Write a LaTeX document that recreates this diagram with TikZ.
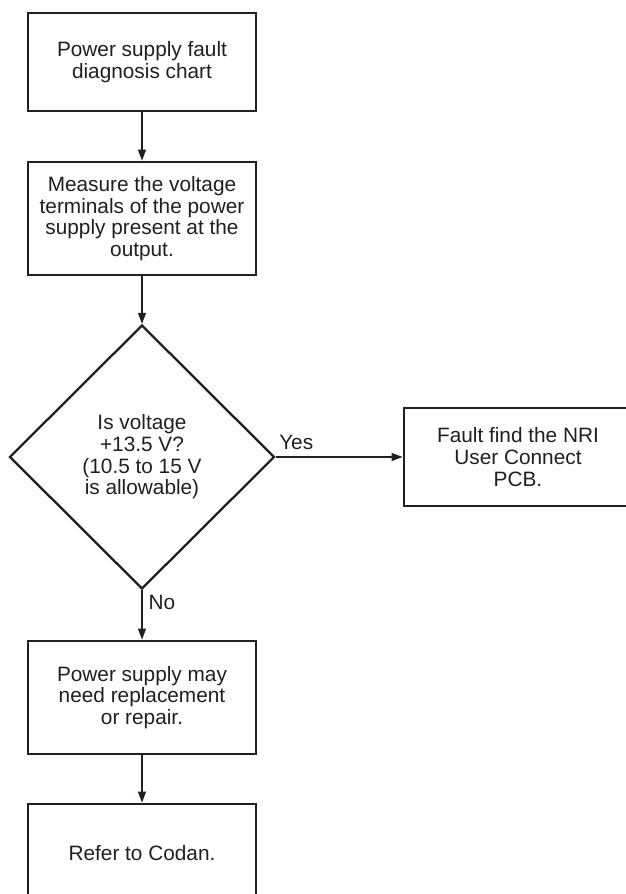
\documentclass[tikz,border=0pt]{standalone}
\usepackage{fontspec}
\setmainfont{Liberation Sans}
\usepackage{tikz}
\usetikzlibrary{arrows.meta, positioning, shapes.geometric}
\definecolor{cInk}{HTML}{231F20}

\begin{document}
\begin{tikzpicture}[x=1pt, y=-1pt,
    >={Triangle[length=11pt, width=8pt]},
    block/.style={
        rectangle, draw=cInk, line width=2.8pt, fill=white,
        minimum width=228pt, minimum height=#1, inner sep=0pt,
        font=\fontsize{20.8}{21.7}\selectfont, align=center, text=cInk
    },
    block/.default=98pt,
    decision/.style={
        diamond, draw=cInk, line width=2.3pt, aspect=1, inner sep=0pt,
        minimum width=265pt, minimum height=264pt,
        font=\fontsize{20.8}{21.7}\selectfont, align=center, text=cInk
    },
    arr/.style={->, line width=1.2pt, color=cInk},
    tag/.style={inner sep=0pt, font=\fontsize{20.8}{21.7}\selectfont, text=cInk},
]
\useasboundingbox (0,0) rectangle (626,894);
\clip (0,0) rectangle (626,894);

% Column – start and measurement
\node[block] (start) at (142,62) {Power supply fault\\diagnosis chart};
\node[block=113pt] (measure) at (142,218.5)
    {Measure the voltage\\terminals of the power\\supply present at the\\output.};

% Decision
\node[decision] (check) at (142,457)
    {Is voltage\\+13.5 V?\\(10.5 to 15 V\\is allowable)};

% Yes branch
\node[block] (fault) at (518,457) {Fault find the NRI\\User Connect\\PCB.};

% No branch
\node[block=113pt] (repair) at (142,697.5)
    {Power supply may\\need replacement\\or repair.};
\node[block] (codan) at (142,853) {Refer to Codan.};

% Arrows
\draw[arr] (start)   -- (measure);
\draw[arr] (measure) -- (check);
\draw[arr] (check.east) -- (fault.west)
    node[tag, pos=0, anchor=base west, xshift=3pt, yshift=8pt] {Yes};
\draw[arr] (check.south) -- (repair.north)
    node[tag, pos=0, anchor=base west, xshift=6pt, yshift=-19pt] {No};
\draw[arr] (repair)  -- (codan);

\end{tikzpicture}
\end{document}
